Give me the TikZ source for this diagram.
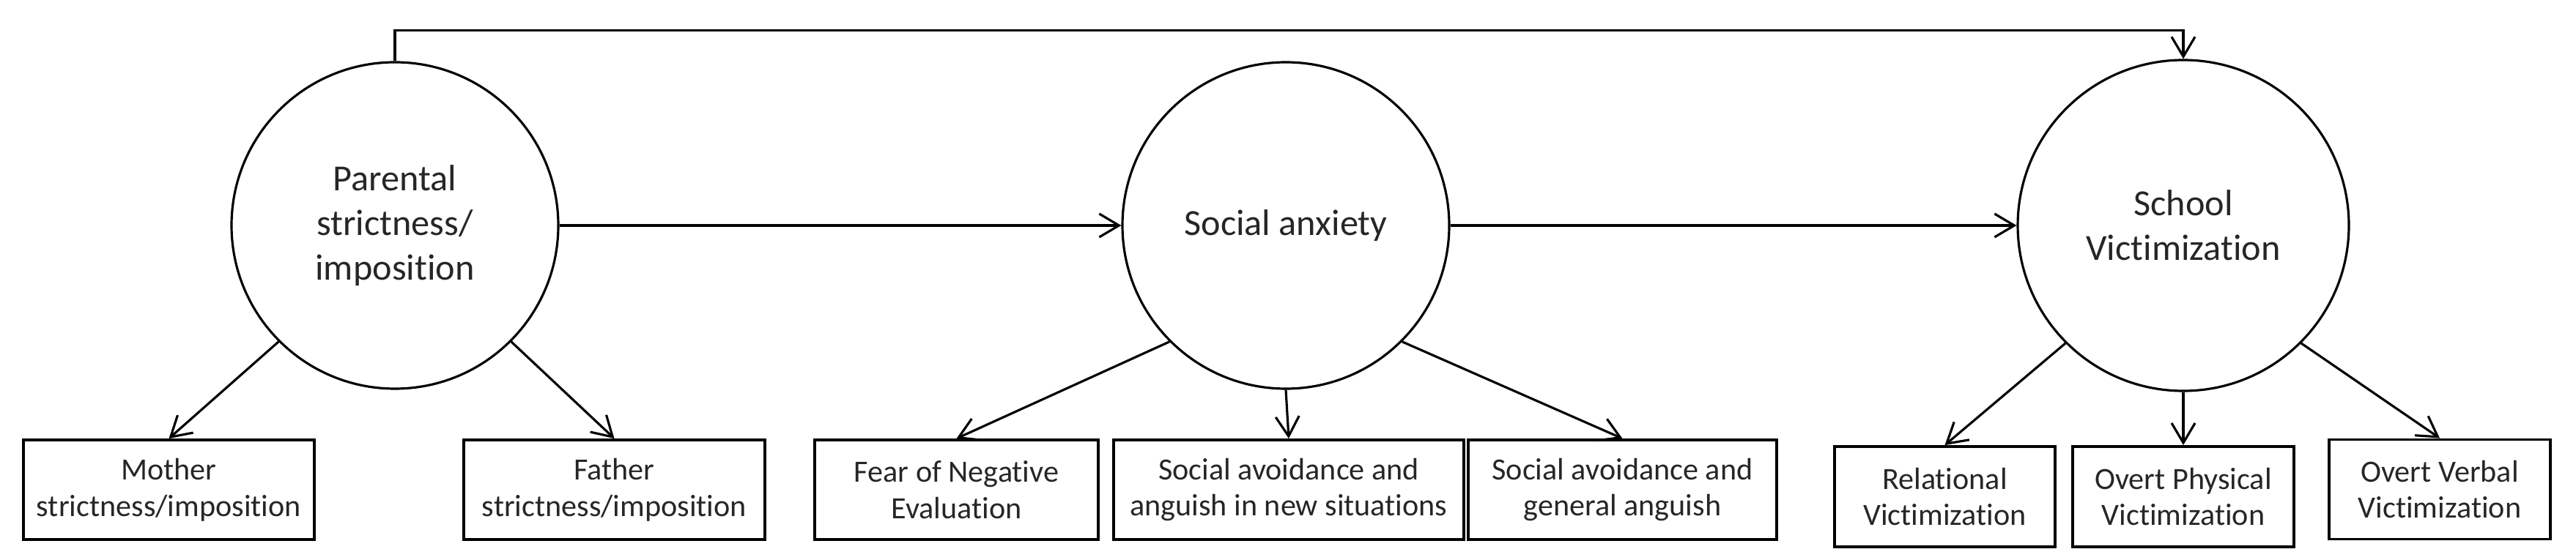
\documentclass[tikz,border=0pt]{standalone}
\usepackage{fontspec}
\setmainfont{Carlito}[Ligatures=NoCommon]
\usetikzlibrary{arrows.meta}

\begin{document}
\begin{tikzpicture}[>={Straight Barb[length=2.7mm,width=3.2mm]},line width=0.9pt,
    latent/.style={circle,draw,minimum size=4.46cm,inner sep=0pt,align=center,
      text=black!85,font=\fontsize{14.3}{17.4}\selectfont},
    indicator/.style={rectangle,draw,line width=1.1pt,minimum height=1.36cm,inner sep=0pt,align=center,
      text=black!85,font=\fontsize{12}{14.2}\selectfont}]
      \useasboundingbox (0,0) rectangle (35.16,7.65);

      \node[latent] (1) at (5.39,4.57) {Parental\\strictness/\\imposition};
      \node[latent,right of=1,xshift=11.16cm] (2) {Social anxiety};
      \node[latent,right of=2,xshift=11.25cm,minimum size=4.52cm] (3) {School\\Victimization};

      \node[indicator,minimum width=3.97cm,below of=1,xshift=-3.085cm,yshift=-2.61cm] (4) {Mother\\strictness/imposition};
      \node[indicator,minimum width=4.11cm,below of=1,xshift=2.995cm,yshift=-2.61cm] (5) {Father\\strictness/imposition};
      \node[indicator,minimum width=3.87cm,below of=2,xshift=-4.495cm,yshift=-2.61cm] (6) {Fear of Negative\\Evaluation};
      \node[indicator,minimum width=4.78cm,below of=2,xshift=0.04cm,yshift=-2.61cm] (7) {Social avoidance and\\anguish in new situations};
      \node[indicator,minimum width=4.21cm,below of=2,xshift=4.595cm,yshift=-2.61cm] (8) {Social avoidance and\\general anguish};
      \node[indicator,minimum width=3.01cm,minimum height=1.37cm,below of=3,xshift=-3.255cm,yshift=-2.705cm] (9) {Relational\\Victimization};
      \node[indicator,minimum width=3.02cm,minimum height=1.37cm,below of=3,yshift=-2.705cm] (10) {Overt Physical\\Victimization};
      \node[indicator,minimum width=3.02cm,below of=3,xshift=3.5cm,yshift=-2.605cm] (11) {Overt Verbal\\Victimization};

      \draw[->] (1) -- (2);
      \draw[->] (2) -- (3);
      \draw[->] (1.north) -- ++(0,0.42) -| (3.north);
      \draw[->] (1.-135) -- (4.north);
      \draw[->] (1.-45) -- (5.north);
      \draw[->] (2.-135) -- (6.north);
      \draw[->] (2.south) -- (7.north);
      \draw[->] (2.-45) -- (8.north);
      \draw[->] (3.-135) -- (9.north);
      \draw[->] (3.south) -- (10.north);
      \draw[->] (3.-45) -- (11.north);
    \end{tikzpicture}
\end{document}
